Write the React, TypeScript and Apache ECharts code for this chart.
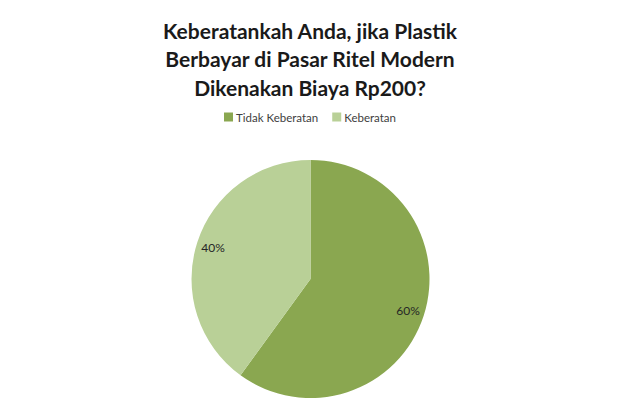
import React, { useEffect, useRef } from "react";
import * as echarts from "echarts";

const titleLines = [
  "Keberatankah Anda, jika Plastik",
  "Berbayar di Pasar Ritel Modern",
  "Dikenakan Biaya Rp200?",
];
const categories = ["Tidak Keberatan", "Keberatan"];
const values = [60, 40];
const colors = ["#8aa750", "#b9d097"];

export default function App() {
  const ref = useRef<HTMLDivElement>(null);
  useEffect(() => {
    if (!ref.current) return;
    const chart = echarts.init(ref.current, undefined, { renderer: "svg" });
    const data = categories.map((name, i) => ({
      name,
      value: values[i],
      itemStyle: { color: colors[i] },
    }));
    chart.setOption({
      animation: false,
      backgroundColor: "#ffffff",
      title: {
        text: titleLines.join("\n"),
        left: "center",
        top: 11,
        textStyle: {
          fontFamily: "Lato",
          fontSize: 21,
          fontWeight: "bold",
          lineHeight: 28.5,
          color: "#1a1a1a",
        },
      },
      legend: {
        data: categories,
        top: 106,
        left: "center",
        icon: "rect",
        itemWidth: 9,
        itemHeight: 9,
        itemGap: 14,
        textStyle: {
          fontFamily: "Lato",
          fontSize: 11.5,
          color: "#404040",
          padding: [0, 0, 0, -2],
        },
      },
      series: [
        {
          type: "pie",
          center: [310.5, 279],
          radius: [0, 119],
          startAngle: 90,
          clockwise: true,
          label: { show: false },
          labelLine: { show: false },
          silent: true,
          data,
        },
        {
          type: "pie",
          center: [310.5, 279],
          radius: [80, 119],
          startAngle: 90,
          clockwise: true,
          silent: true,
          itemStyle: { color: "rgba(0,0,0,0)" },
          label: {
            show: true,
            position: "inside",
            formatter: "{d}%",
            fontFamily: "Lato",
            fontSize: 12,
            color: "#262626",
          },
          labelLine: { show: false },
          data: categories.map((name, i) => ({
            name,
            value: values[i],
            itemStyle: { color: "rgba(0,0,0,0)" },
          })),
        },
      ],
    });
    return () => chart.dispose();
  }, []);
  return (
    <div
      ref={ref}
      style={{ position: "fixed", left: 0, top: 0, width: 620, height: 413 }}
    />
  );
}
